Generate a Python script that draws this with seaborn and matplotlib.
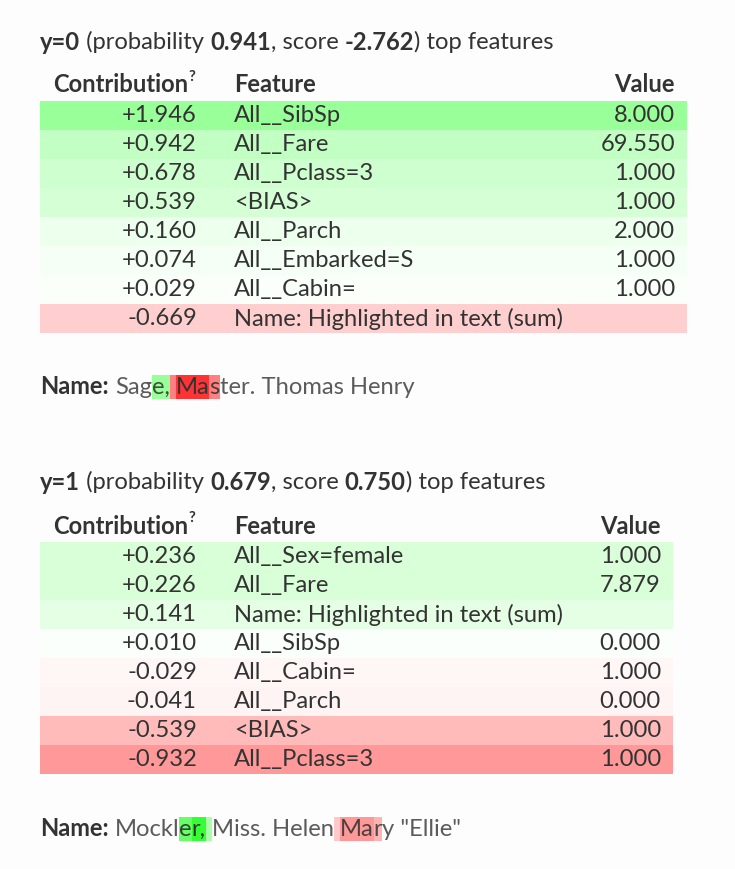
import colorsys
import numpy as np
import pandas as pd
import matplotlib
matplotlib.use("Agg")
import matplotlib.pyplot as plt
import seaborn as sns
from matplotlib.colors import ListedColormap
from matplotlib.patches import Rectangle
from matplotlib.transforms import blended_transform_factory

# ---------------- data ----------------
t0_target = "y=0"
t0_prob = 0.941
t0_score = -2.762
t0_contrib = [1.946, 0.942, 0.678, 0.539, 0.160, 0.074, 0.029, -0.669]
t0_features = ["All__SibSp", "All__Fare", "All__Pclass=3", "<BIAS>", "All__Parch",
               "All__Embarked=S", "All__Cabin=", "Name: Highlighted in text (sum)"]
t0_values = [8.000, 69.550, 1.000, 1.000, 2.000, 1.000, 1.000, None]
name0_parts = ["Sag", "e,", " ", "Ma", "s", "ter. Thomas Henry"]
name0_weights = [0.0, 0.37, -0.51, -1.0, -0.51, 0.0]

t1_target = "y=1"
t1_prob = 0.679
t1_score = 0.750
t1_contrib = [0.236, 0.226, 0.141, 0.010, -0.029, -0.041, -0.539, -0.932]
t1_features = ["All__Sex=female", "All__Fare", "Name: Highlighted in text (sum)", "All__SibSp",
               "All__Cabin=", "All__Parch", "<BIAS>", "All__Pclass=3"]
t1_values = [1.000, 7.879, None, 0.000, 1.000, 0.000, 1.000, 1.000]
name1_parts = ["Mockl", "e", "r,", " ", "Miss. Helen", " ", "Ma", "r", "y \"Ellie\""]
name1_weights = [0.0, 0.66, 1.0, 0.29, 0.0, -0.15, -0.37, -0.24, 0.0]

# ---------------- style ----------------
W, H = 735, 869
BG = "#fdfdfd"
TXT = "#333333"
FONT = "Lato"
FS = 17.15  # ~24 px


def eli5_rgb(rel_signed, min_lightness=0.8):
    hue = 120 / 360 if rel_signed > 0 else 0.0
    rel = abs(rel_signed) ** 0.7
    light = 1.0 - (1 - min_lightness) * rel
    return colorsys.hls_to_rgb(hue, light, 1.0)


grid = np.linspace(-1, 1, 1001)
table_cmap = ListedColormap([eli5_rgb(v, 0.8) for v in grid])

sns.set_theme(style="white")
plt.rcParams["font.family"] = [FONT, "DejaVu Sans"]

fig = plt.figure(figsize=(W / 100, H / 100), dpi=100)
fig.patch.set_facecolor(BG)
ax = fig.add_axes([0, 0, 1, 1])
ax.set_xlim(0, W)
ax.set_ylim(H, 0)
ax.axis("off")
ax.patch.set_alpha(0)
renderer = fig.canvas.get_renderer()


def text_width(s, **kw):
    t = ax.text(0, 0, "|" + s + "|", fontfamily=FONT, **kw)
    w1 = t.get_window_extent(renderer).width
    t.remove()
    t = ax.text(0, 0, "||", fontfamily=FONT, **kw)
    w2 = t.get_window_extent(renderer).width
    t.remove()
    return w1 - w2


def draw_segments(x, y, segs, hl_height=24):
    """segs: list of (text, fontweight, alpha, bgcolor or None)"""
    for s, fw, alpha, bg in segs:
        w = text_width(s, fontsize=FS, fontweight=fw)
        if bg is not None:
            ax.add_patch(Rectangle((x, y - hl_height / 2), w, hl_height,
                                   facecolor=bg, edgecolor="none", zorder=1))
        ax.text(x, y, s, fontsize=FS, fontweight=fw, color=TXT, alpha=alpha,
                ha="left", va="center", fontfamily=FONT, zorder=2)
        x += w


def title(y, target, prob, score):
    draw_segments(40, y, [
        (target, "bold", 1, None),
        (" (probability ", "normal", 1, None),
        (f"{prob:.3f}", "bold", 1, None),
        (", score ", "normal", 1, None),
        (f"{score:.3f}", "bold", 1, None),
        (") top features", "normal", 1, None),
    ])


def name_line(y, parts, weights):
    rng = max(abs(w) for w in weights)
    segs = [("Name:", "bold", 1, None), (" ", "normal", 1, None)]
    for p, w in zip(parts, weights):
        if w == 0:
            segs.append((p, "normal", 0.8, None))
        else:
            segs.append((p, "normal", 0.8 + 0.2 * abs(w / rng), eli5_rgb(w / rng, 0.6)))
    draw_segments(40, y, segs)


def table(header_y, top, left, right, value_right, contrib, features, values):
    n = len(contrib)
    row_h = 29
    bottom = top + n * row_h
    df = pd.DataFrame({"contribution": contrib}, index=features)
    hax = fig.add_axes([left / W, 1 - bottom / H, (right - left) / W, (bottom - top) / H])
    rng = max(abs(c) for c in contrib)
    sns.heatmap(df, ax=hax, cmap=table_cmap, vmin=-rng, vmax=rng, cbar=False,
                xticklabels=False, yticklabels=False, linewidths=0)
    hax.set_xlabel("")
    hax.set_ylabel("")
    tr = blended_transform_factory(ax.transData, hax.transData)
    # headers
    ax.text(188, header_y, "Contribution", fontsize=FS, fontweight="bold", color=TXT,
            ha="right", va="center", fontfamily=FONT)
    ax.text(189, header_y - 8, "?", fontsize=FS * 0.62, fontweight="bold", color=TXT,
            ha="left", va="center", fontfamily=FONT)
    ax.text(234, header_y, "Feature", fontsize=FS, fontweight="bold", color=TXT,
            ha="left", va="center", fontfamily=FONT)
    ax.text(value_right, header_y, "Value", fontsize=FS, fontweight="bold", color=TXT,
            ha="right", va="center", fontfamily=FONT)
    for i, (c, f, v) in enumerate(zip(contrib, features, values)):
        yc = i + 0.5
        hax.text(197, yc, f"{c:+.3f}", transform=tr, fontsize=FS, color=TXT,
                 ha="right", va="center", fontfamily=FONT)
        hax.text(234, yc, f, transform=tr, fontsize=FS, color=TXT,
                 ha="left", va="center", fontfamily=FONT)
        if v is not None:
            hax.text(value_right, yc, f"{v:.3f}", transform=tr, fontsize=FS, color=TXT,
                     ha="right", va="center", fontfamily=FONT)


title(42, t0_target, t0_prob, t0_score)
table(85, 101, 40, 687, 675, t0_contrib, t0_features, t0_values)
name_line(387, name0_parts, name0_weights)

title(482, t1_target, t1_prob, t1_score)
table(526, 542, 40, 673, 661, t1_contrib, t1_features, t1_values)
name_line(829, name1_parts, name1_weights)

fig.savefig("out.png", dpi=100, facecolor=BG)
